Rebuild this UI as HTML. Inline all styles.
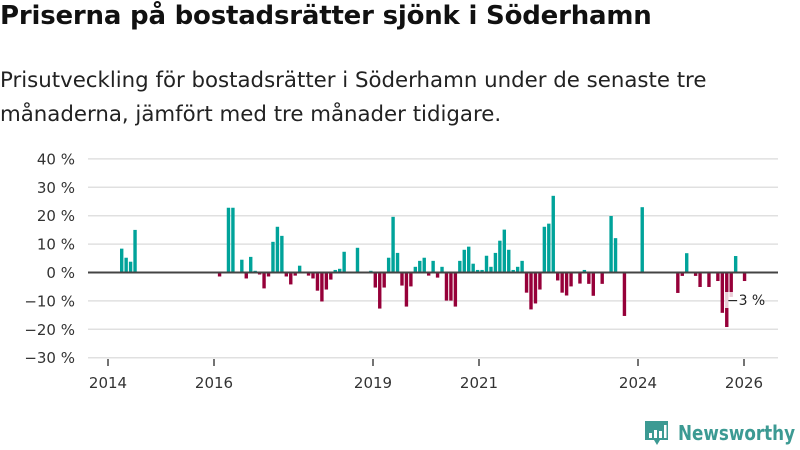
<!DOCTYPE html>
<html><head><meta charset="utf-8"><style>
body{margin:0;background:#fff;font-family:"Liberation Sans","DejaVu Sans",sans-serif;}
#wrap{position:relative;width:800px;height:450px;overflow:hidden;}
h1{position:absolute;left:0;top:1px;margin:0;font-size:26px;font-weight:bold;color:#111;font-family:"DejaVu Sans","Liberation Sans",sans-serif;letter-spacing:-0.2px}
p{position:absolute;left:0;top:64px;margin:0;font-size:21.3px;line-height:34px;color:#222;width:740px;font-family:"DejaVu Sans","Liberation Sans",sans-serif;}
svg{position:absolute;left:0;top:0}
</style></head><body><div id="wrap">
<h1>Priserna på bostadsrätter sjönk i Söderhamn</h1>
<p>Prisutveckling för bostadsrätter i Söderhamn under de senaste tre månaderna, jämfört med tre månader tidigare.</p>
<svg id="chart" width="800" height="450"></svg>
</div>
<script>
const startYear = 2014;
const values = [0,0,8.4,5.2,3.8,15,0,0,0,0,0,0,0,0,0,0,0,0,0,0,0,0,0,0,
-1.4,0,22.8,22.8,0,4.5,-2.1,5.5,0.6,-0.7,-5.6,-1.4,
10.8,16.1,12.9,-1.4,-4.2,-1.1,2.4,0,-1.1,-2.1,-6.4,-10.2,
-6,-2.5,0.9,1.3,7.3,0,0,8.7,0,0,0.6,-5.3,
-12.7,-5.3,5.2,19.6,6.9,-4.6,-12,-4.9,2,4.1,5.2,-1.1,
4.1,-1.8,2,-9.9,-9.9,-12,4.1,8,9.1,3.1,0.9,0.9,
5.9,2,6.9,11.2,15.1,8,0.9,2,4.1,-7.1,-13,-10.9,
-6,16.1,17.2,27,-2.8,-7.1,-8.1,-4.9,0,-3.9,0.9,-4,
-8.2,0,-4,0,19.9,12.1,0,-15.3,0,0,0,23,
0,0,0,0,0,0,0,-7.2,-1.2,6.8,0,-1.2,
-5.1,0,-5.1,0,-3,-14.2,-19.2,-8.6,5.8,0,-3];
const yTicks = [40,30,20,10,0,-10,-20,-30];
const yTickLabels = ["40 %","30 %","20 %","10 %","0 %","−10 %","−20 %","−30 %"];
const xTickYears = [2014,2016,2019,2021,2024,2026];
const annotation = "−3 %";

const svg = document.getElementById('chart');
const NS = 'http://www.w3.org/2000/svg';
function y(v){return 272.5 - v*2.84;}
function xBar(i){return 111.1 + i*4.449;}
function xYear(yr){return 108 + (yr-startYear)*53;}
function mk(tag,attrs,parent){const e=document.createElementNS(NS,tag);for(const k in attrs)e.setAttribute(k,attrs[k]);(parent||svg).appendChild(e);return e;}

yTicks.forEach((t,k)=>{
  const g=mk('line',{x1:88,x2:778,y1:y(t),y2:y(t),stroke:'#e0e0e0','stroke-width':1.5});
  
  
  const tx=mk('text',{x:75,y:y(t)+5.5,'text-anchor':'end','font-size':15,fill:'#333','font-family':'DejaVu Sans, Liberation Sans, sans-serif'});
  tx.textContent=yTickLabels[k];
  
  
});
values.forEach((v,i)=>{
  if(v===0)return;
  const r=mk('rect',{x:xBar(i),width:3.4,y:Math.min(y(v),y(0)),height:Math.abs(y(v)-y(0)),fill:v>0?'#00a39a':'#960039'});
  
  
});
const zl=mk('line',{x1:88,x2:778,y1:y(0),y2:y(0),stroke:'#444','stroke-width':2});


xTickYears.forEach(yr=>{
  const tk=mk('line',{x1:xYear(yr),x2:xYear(yr),y1:359,y2:366,stroke:'#444','stroke-width':1.5});
  
  
  const t=mk('text',{x:xYear(yr),y:388,'text-anchor':'middle','font-size':15,fill:'#333','font-family':'DejaVu Sans, Liberation Sans, sans-serif'});
  t.textContent=yr;
  
  
});
const li=values.length-1;
const bg=mk('rect',{x:xBar(li)-18,y:292,width:36,height:16,fill:'#fff',opacity:0.8});


const an=mk('text',{x:xBar(li)-16,y:305,'font-size':14,fill:'#222','font-family':'DejaVu Sans, Liberation Sans, sans-serif'});
an.textContent=annotation;


// logo
const lg=mk('g',{});


mk('path',{d:'M645 421 h23 v19 h-8 l-3 5 l-3 -5 h-9 z',fill:'#3c9a93'},lg);
[[649,433,3,5],[654,430,3,8],[659,431,3,7],[664,425,2.5,13]].forEach(b=>mk('rect',{x:b[0],y:b[1],width:b[2],height:b[3],fill:'#fff'},lg));
const lt=mk('text',{x:678,y:440,'font-size':20,'font-weight':'bold',fill:'#3c9a93',textLength:117,lengthAdjust:'spacingAndGlyphs','font-family':'DejaVu Sans, Liberation Sans, sans-serif'},lg);
lt.textContent='Newsworthy';
</script>
</body></html>
